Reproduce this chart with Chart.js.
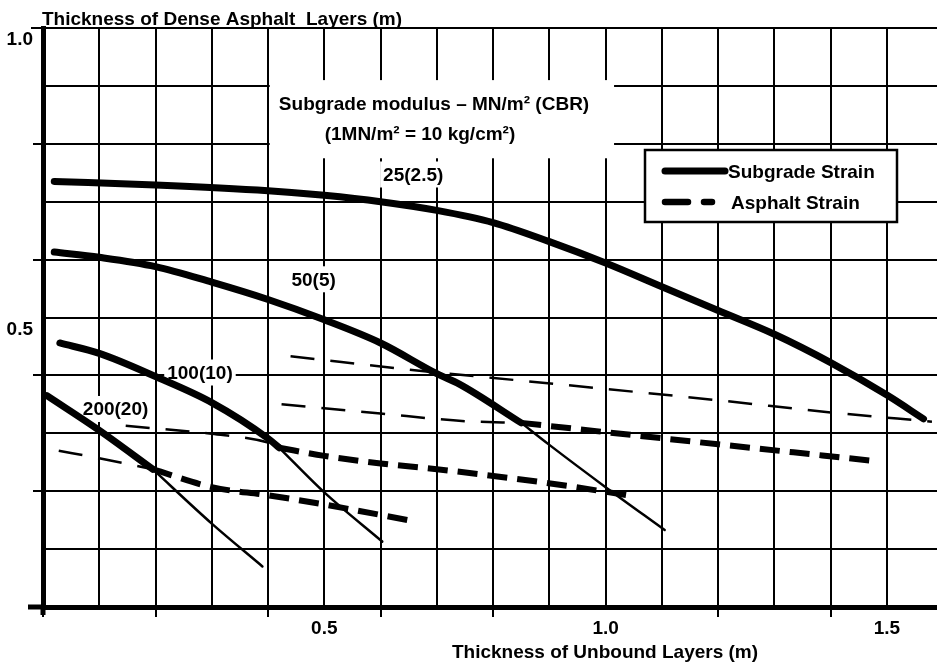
<!DOCTYPE HTML>
<html>
<head>
    <title>Asphalt thickness design chart</title>
    <meta charset="utf-8" />
    <script src="https://cdn.jsdelivr.net/npm/chart.js@4.4.1/dist/chart.umd.min.js"></script>
    <style>
        html, body { margin: 0; padding: 0; background: #fff; }
    </style>
    <script>
        // x = thickness of unbound layers (m), y = thickness of dense asphalt layers (m)
        // subgrade strain criterion: thick part governs, thin part is the continuation
        const sub25Thick = [[0.02, 0.735], [0.2, 0.729], [0.4, 0.719], [0.5, 0.711], [0.6, 0.700], [0.7, 0.685], [0.8, 0.664],
            [0.9, 0.631], [1.0, 0.594], [1.1, 0.553], [1.2, 0.512], [1.3, 0.471], [1.4, 0.422], [1.5, 0.366], [1.565, 0.325]];
        const sub50Thick = [[0.02, 0.613], [0.1, 0.604], [0.2, 0.588], [0.3, 0.561], [0.4, 0.531], [0.5, 0.496],
            [0.6, 0.456], [0.7, 0.403], [0.74, 0.385], [0.85, 0.318]];
        const sub50Thin = [[0.85, 0.318], [0.9, 0.28], [1.0, 0.207], [1.105, 0.133]];
        const sub100Thick = [[0.03, 0.456], [0.1, 0.438], [0.2, 0.398], [0.3, 0.353], [0.4, 0.291], [0.42, 0.275]];
        const sub100Thin = [[0.42, 0.275], [0.5, 0.198], [0.603, 0.113]];
        const sub200Thick = [[0.007, 0.365], [0.1, 0.305], [0.195, 0.238]];
        const sub200Thin = [[0.195, 0.238], [0.3, 0.144], [0.39, 0.07]];

        // asphalt strain criterion: thin dashed before the crossing, thick dashed after it
        const ash25Thin = [[0.44, 0.433], [0.7, 0.405], [0.86, 0.39], [1.2, 0.357], [1.4, 0.336], [1.58, 0.32]];
        const ash50Thin = [[0.424, 0.35], [0.6, 0.334], [0.75, 0.321], [0.85, 0.318]];
        const ash50Thick = [[0.85, 0.318], [1.0, 0.302], [1.2, 0.281], [1.48, 0.252]];
        const ash100Thin = [[0.147, 0.313], [0.3, 0.299], [0.4, 0.284], [0.42, 0.276]];
        const ash100Thick = [[0.42, 0.275], [0.5, 0.261], [0.6, 0.248], [0.7, 0.238], [0.89, 0.215], [1.04, 0.193]];
        const ash200Thin = [[0.028, 0.27], [0.1, 0.257], [0.195, 0.238]];
        const ash200Thick = [[0.195, 0.238], [0.3, 0.207], [0.4, 0.193], [0.5, 0.177], [0.654, 0.149]];

        // curve labels, subgrade modulus MN/m2 (CBR), placed in data units
        const curveLabels = ['25(2.5)', '50(5)', '100(10)', '200(20)'];
        const curveLabelX = [0.658, 0.481, 0.279, 0.129];
        const curveLabelY = [0.747, 0.566, 0.405, 0.342];

        const xTickLabels = ['0.5', '1.0', '1.5'];
        const yTickLabels = ['0.5', '1.0'];
        const legendLabels = ['Subgrade Strain', 'Asphalt Strain'];
        const yTitle = 'Thickness of Dense Asphalt  Layers (m)';
        const xTitle = 'Thickness of Unbound Layers (m)';
        const noteLines = ['Subgrade modulus \u2013 MN/m\u00b2 (CBR)', '(1MN/m\u00b2 = 10 kg/cm\u00b2)'];

        const font_family = '"Liberation Sans", Arial, Helvetica, sans-serif';
        const bold_font = 'bold 19px ' + font_family;
        Chart.defaults.font.family = font_family;
        Chart.defaults.font.size = 19;
        Chart.defaults.font.weight = 'bold';
        Chart.defaults.color = '#000';

        function pts(arr) {
            return arr.map(p => ({ x: p[0], y: p[1] }));
        }

        function seg(data, kind) {
            const base = {
                data: pts(data),
                borderColor: '#000',
                pointRadius: 0,
                fill: false,
                cubicInterpolationMode: 'monotone',
                borderJoinStyle: 'round'
            };
            if (kind === 'thickSolid') return Object.assign(base, { borderWidth: 7, borderCapStyle: 'round' });
            if (kind === 'thinSolid') return Object.assign(base, { borderWidth: 2.5, borderCapStyle: 'round' });
            if (kind === 'thinDash') return Object.assign(base, { borderWidth: 2.5, borderDash: [24, 16] });
            return Object.assign(base, { borderWidth: 6, borderDash: [20, 10] });
        }

        function tenth(v) {
            return Math.round(v * 10);
        }

        // white panels, curve labels and titles
        const notes = {
            id: 'notes',
            beforeDatasetsDraw(chart) {
                const { ctx, scales: { x, y } } = chart;
                ctx.save();
                ctx.font = bold_font;
                ctx.fillStyle = '#fff';
                // panel behind the modulus note hides the grid
                const l = x.getPixelForValue(0.403), r = x.getPixelForValue(1.015);
                const t = y.getPixelForValue(0.91), b = y.getPixelForValue(0.775);
                ctx.fillRect(l, t, r - l, b - t);

                ctx.fillStyle = '#000';
                ctx.textAlign = 'center';
                ctx.textBaseline = 'middle';
                ctx.fillText(noteLines[0], x.getPixelForValue(0.695), y.getPixelForValue(0.867));
                ctx.fillText(noteLines[1], x.getPixelForValue(0.670), y.getPixelForValue(0.815));

                for (let i = 0; i < curveLabels.length; i++) {
                    const cx = x.getPixelForValue(curveLabelX[i]);
                    const cy = y.getPixelForValue(curveLabelY[i]);
                    const w = ctx.measureText(curveLabels[i]).width;
                    ctx.fillStyle = '#fff';
                    ctx.fillRect(cx - w / 2 - 3, cy - 13, w + 6, 26);
                    ctx.fillStyle = '#000';
                    ctx.fillText(curveLabels[i], cx, cy + 1);
                }
                ctx.restore();
            },
            afterDraw(chart) {
                const { ctx, chartArea } = chart;
                ctx.save();
                // axis lines run a little past the corner
                ctx.fillStyle = '#000';
                ctx.fillRect(chartArea.left - 15, chartArea.bottom - 2.5, 15, 5);
                ctx.fillRect(chartArea.left - 2.5, chartArea.bottom, 5, 8);
                ctx.fillRect(chartArea.left - 12, chartArea.top - 1, 12, 2);

                ctx.font = bold_font;
                ctx.textBaseline = 'alphabetic';
                ctx.textAlign = 'left';
                ctx.fillText(yTitle, chartArea.left - 1, 25);
                ctx.textAlign = 'center';
                ctx.fillText(xTitle, 605, 658);
                ctx.restore();
            }
        };

        const legendBox = {
            id: 'legendBox',
            afterDatasetsDraw(chart) {
                const ctx = chart.ctx;
                ctx.save();
                ctx.fillStyle = '#fff';
                ctx.fillRect(645, 150, 252, 72);
                ctx.strokeStyle = '#000';
                ctx.lineWidth = 2.5;
                ctx.strokeRect(645, 150, 252, 72);

                ctx.lineWidth = 7;
                ctx.lineCap = 'round';
                ctx.beginPath();
                ctx.moveTo(665, 171);
                ctx.lineTo(725, 171);
                ctx.stroke();

                ctx.lineWidth = 6.5;
                ctx.beginPath();
                ctx.moveTo(665, 202);
                ctx.lineTo(688, 202);
                ctx.moveTo(704, 202);
                ctx.lineTo(712, 202);
                ctx.stroke();

                ctx.font = bold_font;
                ctx.fillStyle = '#000';
                ctx.textAlign = 'left';
                ctx.textBaseline = 'alphabetic';
                ctx.fillText(legendLabels[0], 728, 178);
                ctx.fillText(legendLabels[1], 731, 209);
                ctx.restore();
            }
        };

        function draw() {
            const datasets = [
                seg(ash25Thin, 'thinDash'),
                seg(ash50Thin, 'thinDash'),
                seg(ash100Thin, 'thinDash'),
                seg(ash200Thin, 'thinDash'),
                seg(sub50Thin, 'thinSolid'),
                seg(sub100Thin, 'thinSolid'),
                seg(sub200Thin, 'thinSolid'),
                seg(ash50Thick, 'thickDash'),
                seg(ash100Thick, 'thickDash'),
                seg(ash200Thick, 'thickDash'),
                seg(sub25Thick, 'thickSolid'),
                seg(sub50Thick, 'thickSolid'),
                seg(sub100Thick, 'thickSolid'),
                seg(sub200Thick, 'thickSolid')
            ];

            const config = {
                type: 'line',
                data: { datasets: datasets },
                options: {
                    responsive: false,
                    animation: false,
                    layout: { padding: { top: 28, right: 0, left: 0, bottom: 0 } },
                    plugins: {
                        legend: { display: false },
                        tooltip: { enabled: false }
                    },
                    scales: {
                        x: {
                            type: 'linear',
                            min: 0,
                            max: 1.589,
                            afterFit: s => { s.height = 59; },
                            afterBuildTicks: s => {
                                s.ticks = s.ticks.filter(t => Math.abs(t.value * 10 - tenth(t.value)) < 1e-6);
                            },
                            ticks: {
                                stepSize: 0.1,
                                includeBounds: false,
                                autoSkip: false,
                                maxRotation: 0,
                                padding: 0,
                                color: '#000',
                                callback: v => {
                                    const s = v.toFixed(1);
                                    return xTickLabels.includes(s) ? s : '';
                                }
                            },
                            grid: {
                                color: '#000',
                                lineWidth: 2,
                                tickLength: 10,
                                tickWidth: 2,
                                tickColor: c => {
                                    if (!c.tick) return 'rgba(0,0,0,0)';
                                    const v = tenth(c.tick.value);
                                    return (v % 2 === 0 && v !== 10) ? '#000' : 'rgba(0,0,0,0)';
                                }
                            },
                            border: { color: '#000', width: 5 }
                        },
                        y: {
                            type: 'linear',
                            min: 0,
                            max: 1,
                            afterFit: s => { s.width = 43; },
                            ticks: {
                                stepSize: 0.1,
                                autoSkip: false,
                                padding: 0,
                                labelOffset: 12,
                                color: '#000',
                                callback: v => {
                                    const s = v.toFixed(1);
                                    return yTickLabels.includes(s) ? s : '';
                                }
                            },
                            grid: {
                                color: '#000',
                                lineWidth: 2,
                                tickLength: 10,
                                tickWidth: 2,
                                tickColor: c => {
                                    if (!c.tick) return 'rgba(0,0,0,0)';
                                    return tenth(c.tick.value) % 2 === 0 ? '#000' : 'rgba(0,0,0,0)';
                                }
                            },
                            border: { color: '#000', width: 5 }
                        }
                    }
                },
                plugins: [notes, legendBox]
            };

            new Chart(document.getElementById('chart'), config);
        }

        document.addEventListener('DOMContentLoaded', draw);
    </script>
</head>

<body>
    <canvas id="chart" width="937" height="666"></canvas>
</body>
</html>
